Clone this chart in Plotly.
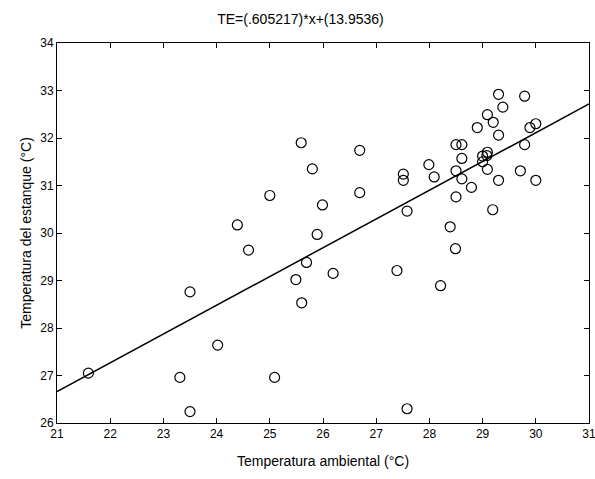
import plotly.graph_objects as go

# Data
temp_ambiental = [21.59, 23.31, 23.5, 23.5, 24.02, 24.39, 24.6, 25.0, 25.09, 25.49,
                  25.6, 25.59, 25.69, 25.8, 25.89, 25.99, 26.19, 26.69, 26.69, 27.39,
                  27.51, 27.51, 27.58, 27.58, 27.99, 28.09, 28.21, 28.39, 28.49, 28.5,
                  28.5, 28.5, 28.61, 28.61, 28.61, 28.79, 28.9, 29.0, 29.0, 29.08,
                  29.09, 29.09, 29.09, 29.19, 29.2, 29.3, 29.3, 29.3, 29.38, 29.71,
                  29.79, 29.79, 29.89, 30.0, 30.0]
temp_estanque = [27.05, 26.96, 28.76, 26.24, 27.64, 30.17, 29.64, 30.79, 26.96, 29.02,
                 28.53, 31.9, 29.38, 31.35, 29.97, 30.59, 29.15, 31.74, 30.85, 29.21,
                 31.24, 31.11, 30.46, 26.3, 31.44, 31.18, 28.89, 30.13, 29.67, 31.86,
                 31.31, 30.76, 31.86, 31.57, 31.14, 30.96, 32.22, 31.5, 31.62, 31.63,
                 31.7, 32.49, 31.34, 30.49, 32.33, 32.92, 32.06, 31.11, 32.65, 31.31,
                 32.88, 31.86, 32.22, 32.3, 31.11]
slope = 0.605217
intercept = 13.9536
x_range = [21, 31]
y_range = [26, 34]
x_ticks = list(range(21, 32))
y_ticks = list(range(26, 35))

line_x = x_range
line_y = [slope * v + intercept for v in line_x]

fig = go.Figure()
fig.add_trace(go.Scatter(x=line_x, y=line_y, mode="lines",
                         line=dict(color="black", width=1.5), showlegend=False))
fig.add_trace(go.Scatter(x=temp_ambiental, y=temp_estanque, mode="markers",
                         marker=dict(symbol="circle-open", size=10, color="black",
                                     line=dict(width=1.2, color="black")),
                         showlegend=False))

font = "Liberation Sans, Arial, sans-serif"
fig.update_layout(
    width=595, height=479,
    margin=dict(l=57, r=6, t=43, b=56, autoexpand=False),
    paper_bgcolor="white", plot_bgcolor="white",
    font=dict(family=font, color="black", size=12),
    title=dict(text="TE=(.605217)*x+(13.9536)", x=0.505, xanchor="center",
               y=0.96, yanchor="middle", font=dict(size=14, family=font, color="black")),
)
axis_common = dict(showline=True, linecolor="black", linewidth=1, mirror="ticks",
                   ticks="inside", ticklen=5, tickwidth=1, tickcolor="black",
                   showgrid=False, zeroline=False, automargin=False,
                   ticklabeloverflow="allow", tickfont=dict(size=12, family=font))
fig.update_xaxes(range=x_range, tickvals=x_ticks,
                 title=dict(text="Temperatura ambiental (°C)", font=dict(size=14), standoff=15),
                 **axis_common)
fig.update_yaxes(range=y_range, tickvals=y_ticks,
                 title=dict(text="Temperatura del estanque (°C)", font=dict(size=14), standoff=5),
                 **axis_common)

fig.write_html("out.html", config={"displayModeBar": False},
               post_script="document.body.style.margin='0';")
